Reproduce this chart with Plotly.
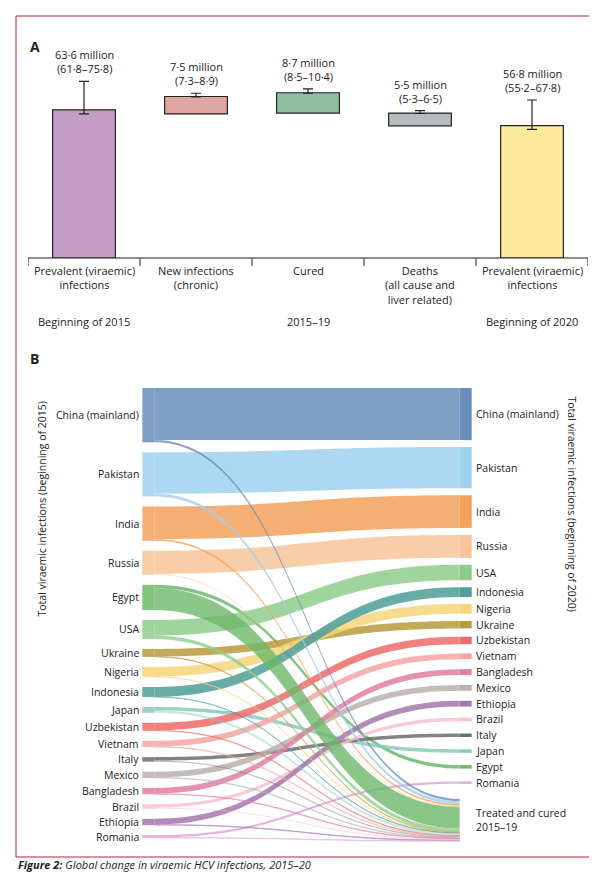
import plotly.graph_objects as go

W, H = 597, 881
FONT = "Open Sans"

# ---------- Panel A data ----------
bar_labels = ["Prevalent (viraemic)<br>infections", "New infections<br>(chronic)", "Cured",
              "Deaths<br>(all cause and<br>liver related)", "Prevalent (viraemic)<br>infections"]
bar_values = [63.6, 7.5, 8.7, 5.5, 56.8]
bar_bases = [0, 61.8, 62.2, 56.7, 0]
ci_low = [61.8, 7.3, 8.5, 5.3, 55.2]
ci_high = [75.8, 8.9, 10.4, 6.5, 67.8]
bar_text = ["63·6 million<br>(61·8–75·8)", "7·5 million<br>(7·3–8·9)", "8·7 million<br>(8·5–10·4)",
            "5·5 million<br>(5·3–6·5)", "56·8 million<br>(55·2–67·8)"]
bar_colors = ["#C49EC4", "#E0A6A2", "#8FBF9F", "#B9BCBE", "#FCE99A"]
period_labels = ["Beginning of 2015", "2015–19", "Beginning of 2020"]
period_x = [0, 2, 4]

# ---------- Panel B data (millions) ----------
left_order = ["China (mainland)", "Pakistan", "India", "Russia", "Egypt", "USA", "Ukraine", "Nigeria",
              "Indonesia", "Japan", "Uzbekistan", "Vietnam", "Italy", "Mexico", "Bangladesh", "Brazil",
              "Ethiopia", "Romania"]
right_order = ["China (mainland)", "Pakistan", "India", "Russia", "USA", "Indonesia", "Nigeria", "Ukraine",
               "Uzbekistan", "Vietnam", "Bangladesh", "Mexico", "Ethiopia", "Brazil", "Italy", "Japan",
               "Egypt", "Romania"]
stay_2020 = {"China (mainland)": 9.1, "Pakistan": 7.2, "India": 5.7, "Russia": 4.0, "USA": 2.7,
             "Indonesia": 1.7, "Nigeria": 1.7, "Ukraine": 1.3, "Uzbekistan": 1.3, "Vietnam": 1.0,
             "Bangladesh": 1.0, "Mexico": 1.0, "Ethiopia": 1.0, "Brazil": 0.6, "Italy": 0.6,
             "Japan": 0.6, "Egypt": 0.6, "Romania": 0.4}
treated = {"China (mainland)": 0.4, "Pakistan": 0.5, "India": 0.3, "Russia": 0.2, "Egypt": 3.8,
           "USA": 0.6, "Ukraine": 0.1, "Nigeria": 0.06, "Indonesia": 0.06, "Japan": 0.4,
           "Uzbekistan": 0.1, "Vietnam": 0.1, "Italy": 0.2, "Mexico": 0.1, "Bangladesh": 0.1,
           "Brazil": 0.2, "Ethiopia": 0.1, "Romania": 0.1}
colors = {"China (mainland)": "#6A8EBB", "Pakistan": "#9DD1EE", "India": "#F5A15A", "Russia": "#F9C49A",
          "Egypt": "#6DB86A", "USA": "#8ECC8C", "Ukraine": "#B89B3C", "Nigeria": "#F6D57A",
          "Indonesia": "#4E9E98", "Japan": "#88C9BE", "Uzbekistan": "#EE6B6B", "Vietnam": "#F5A3A3",
          "Italy": "#6D6D6D", "Mexico": "#BAB0AC", "Bangladesh": "#E27EA4", "Brazil": "#F7BFD3",
          "Ethiopia": "#A478AC", "Romania": "#DDA8D8"}
treated_label = "Treated and cured<br>2015–19"

def rgba(h, a):
    h = h.lstrip("#")
    return f"rgba({int(h[0:2],16)},{int(h[2:4],16)},{int(h[4:6],16)},{a})"

fig = go.Figure()

# ---------- Panel A ----------
fig.add_trace(go.Bar(
    x=list(range(5)), y=bar_values, base=bar_bases, width=0.56,
    marker=dict(color=bar_colors, line=dict(color="#222", width=1.2)),
    error_y=dict(type="data", symmetric=False,
                 array=[h - v for h, v in zip(ci_high, bar_values)],
                 arrayminus=[v - l for l, v in zip(ci_low, bar_values)],
                 color="#222", thickness=1.2, width=5),
    xaxis="x", yaxis="y", showlegend=False, hoverinfo="skip"))

TF = dict(size=11, family=FONT, color="#222")
SF = dict(size=10.5, family=FONT, color="#222")
ann = []
for i in range(5):
    top = bar_bases[i] + ci_high[i]
    ann.append(dict(x=i, y=top, xref="x", yref="y", text=bar_text[i], showarrow=False,
                    yanchor="bottom", yshift=3, font=TF))
    ann.append(dict(x=i, y=1 - 253 / H, xref="x", yref="paper", text=bar_labels[i], showarrow=False,
                    yanchor="top", font=TF))
for t, px in zip(period_labels, period_x):
    ann.append(dict(x=px, y=1 - 313 / H, xref="x", yref="paper", text=t, showarrow=False,
                    yanchor="middle", font=TF))

shapes = [dict(type="line", xref="x", yref="paper", x0=-0.5, x1=4.5, y0=1 - 250 / H, y1=1 - 250 / H,
               line=dict(color="#222", width=1.2))]
for b in [-0.5, 0.5, 1.5, 2.5, 3.5, 4.5]:
    shapes.append(dict(type="line", xref="x", yref="paper", x0=b, x1=b, y0=1 - 250 / H, y1=1 - 258 / H,
                       line=dict(color="#222", width=1)))

# ---------- Panel B (Sankey) ----------
dom_top, dom_bot = 380, 840
dom_h = dom_bot - dom_top
pad = 10
total = sum(stay_2020.values()) + sum(treated.values())
ky = (dom_h - 18 * pad) / total

labels, node_x, node_y, node_col = [], [], [], []
y = 0
left_centers = {}
for c in left_order:
    hgt = (stay_2020[c] + treated[c]) * ky
    left_centers[c] = y + hgt / 2
    y += hgt + pad
for c in left_order:
    labels.append("")
    node_x.append(0.001)
    node_y.append(left_centers[c] / dom_h)
    node_col.append(rgba(colors[c], 0.85))

# right column: keep at least 15.8 px between node centres so labels do not collide
min_gap = 15.8
rpad = 7
right_centers = {}
prev_c, prev_h = None, 0
for c in right_order:
    hgt = stay_2020[c] * ky
    if prev_c is None:
        right_centers[c] = hgt / 2
    else:
        right_centers[c] = right_centers[prev_c] + max((prev_h + hgt) / 2 + rpad, min_gap)
    prev_c, prev_h = c, hgt
tr_h = sum(treated.values()) * ky
right_centers["T"] = right_centers[prev_c] + prev_h / 2 + rpad + 8 + tr_h / 2
for c in right_order:
    labels.append("")
    node_x.append(0.999)
    node_y.append(right_centers[c] / dom_h)
    node_col.append(colors[c])
labels.append("")
node_x.append(0.999)
node_y.append(right_centers["T"] / dom_h)
node_col.append("rgba(255,255,255,0)")

n_left = len(left_order)
src, tgt, val, lcol = [], [], [], []
for i, c in enumerate(left_order):
    src.append(i); tgt.append(n_left + right_order.index(c)); val.append(stay_2020[c])
    lcol.append(rgba(colors[c], 0.85))
for i, c in enumerate(left_order):
    src.append(i); tgt.append(n_left + len(right_order)); val.append(treated[c])
    lcol.append(rgba(colors[c], 0.8 if c in ("Egypt", "China (mainland)", "Pakistan", "India", "USA") else 0.45))

fig.add_trace(go.Sankey(
    arrangement="fixed",
    domain=dict(x=[140 / W, 458 / W], y=[1 - dom_bot / H, 1 - dom_top / H]),
    node=dict(label=labels, x=node_x, y=node_y, color=node_col, pad=pad, thickness=12,
              line=dict(width=0)),
    link=dict(source=src, target=tgt, value=val, color=lcol),
    hoverinfo="skip"))

for c in left_order:
    ann.append(dict(x=133 / W, y=1 - (dom_top + left_centers[c]) / H, xref="paper", yref="paper",
                    text=c, showarrow=False, xanchor="right", yanchor="middle", font=SF))
for c in right_order:
    ann.append(dict(x=466 / W, y=1 - (dom_top + right_centers[c]) / H, xref="paper", yref="paper",
                    text=c, showarrow=False, xanchor="left", yanchor="middle", font=SF))
ann.append(dict(x=466 / W, y=1 - (dom_top + right_centers["T"]) / H, xref="paper", yref="paper",
                text=treated_label, showarrow=False, xanchor="left", yanchor="middle", align="left", font=SF))

ann.append(dict(x=24 / W, y=1 - 611 / H, xref="paper", yref="paper", showarrow=False, textangle=-90,
                text="Total viraemic infections (beginning of 2015)", font=SF))
ann.append(dict(x=573 / W, y=1 - 605 / H, xref="paper", yref="paper", showarrow=False, textangle=90,
                text="Total viraemic infections (beginning of 2020)", font=SF))
ann.append(dict(x=20 / W, y=1 - 27 / H, xref="paper", yref="paper", showarrow=False, xanchor="left",
                text="<b>A</b>", font=dict(size=14, family=FONT, color="#222")))
ann.append(dict(x=20 / W, y=1 - 351 / H, xref="paper", yref="paper", showarrow=False, xanchor="left",
                text="<b>B</b>", font=dict(size=14, family=FONT, color="#222")))
ann.append(dict(x=8 / W, y=1 - 866 / H, xref="paper", yref="paper", showarrow=False, xanchor="left",
                text="<b><i>Figure 2:</i></b><i> Global change in viraemic HCV infections, 2015–20</i>",
                font=dict(size=11, family=FONT, color="#222")))

shapes.append(dict(type="rect", xref="paper", yref="paper", x0=8 / W, x1=1.01, y0=1 - 849 / H, y1=1 - 8 / H,
                   line=dict(color="#B0223A", width=1)))

fig.update_layout(
    width=W, height=H, margin=dict(l=0, r=0, t=0, b=0),
    paper_bgcolor="white", plot_bgcolor="white",
    xaxis=dict(domain=[20 / W, 580 / W], range=[-0.5, 4.5], visible=False),
    yaxis=dict(domain=[1 - 250 / H, 1 - 30 / H], range=[0, 94.4], visible=False),
    annotations=ann, shapes=shapes, font=dict(family=FONT))

fig.write_html("out.html")
